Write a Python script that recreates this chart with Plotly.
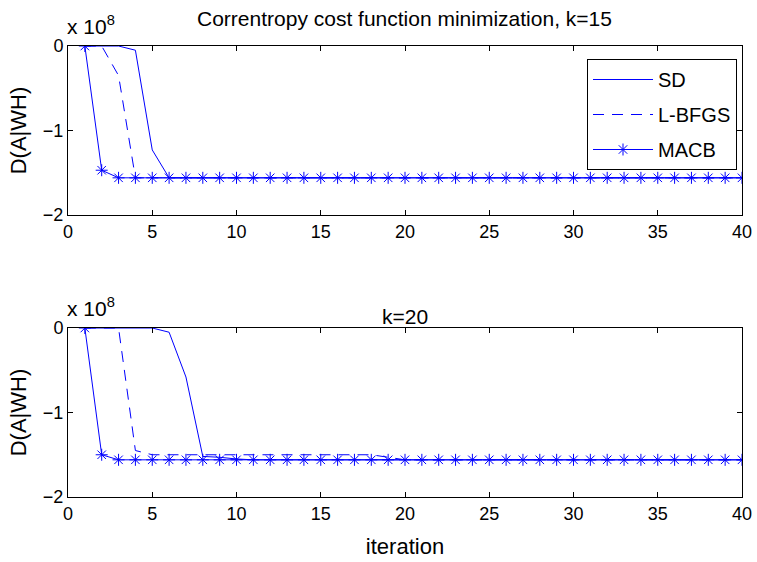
import plotly.graph_objects as go

# iterations
iters = list(range(1, 41))

# values in units of 1e8
# top panel, k=15
sd_k15 = [0, 0, 0, -0.05, -1.23] + [-1.56] * 35
lbfgs_k15 = [0, 0, -0.35] + [-1.56] * 37
macb_k15 = [0, -1.47] + [-1.56] * 38

# bottom panel, k=20
sd_k20 = [0, 0, 0, 0, 0, -0.05, -0.58, -1.52, -1.53, -1.55] + [-1.56] * 30
lbfgs_k20 = [0, 0, 0, -1.45] + [-1.50] * 14 + [-1.53] + [-1.56] * 21
macb_k20 = [0, -1.50] + [-1.56] * 38

x_ticks = [0, 5, 10, 15, 20, 25, 30, 35, 40]
y_ticks = [0, -1, -2]

title_top = "Correntropy cost function minimization, k=15"
title_bottom = "k=20"

BLUE = "#0000ff"
FONT = "Liberation Sans, Arial, sans-serif"
FS = 18
FT = 21
FL = 20
W, H = 757, 562

fig = go.Figure()

def add_panel(sd, lb, mc, xa, ya, show):
    fig.add_trace(go.Scatter(x=iters, y=sd, mode="lines", name="SD",
                             line=dict(color=BLUE, width=1), xaxis=xa, yaxis=ya,
                             showlegend=show, legendgroup="a"))
    fig.add_trace(go.Scatter(x=iters, y=lb, mode="lines", name="L-BFGS",
                             line=dict(color=BLUE, width=1, dash="11px,8px"), xaxis=xa, yaxis=ya,
                             showlegend=show, legendgroup="b"))
    fig.add_trace(go.Scatter(x=iters, y=mc, mode="lines+markers", name="MACB",
                             line=dict(color=BLUE, width=1),
                             marker=dict(symbol="asterisk-open", size=10, color=BLUE,
                                         line=dict(color=BLUE, width=1)),
                             xaxis=xa, yaxis=ya, showlegend=show, legendgroup="c"))

add_panel(sd_k15, lbfgs_k15, macb_k15, "x", "y", True)
add_panel(sd_k20, lbfgs_k20, macb_k20, "x2", "y2", False)

xl, xr = 68, 742
top = (46, 215)
bot = (328, 497)

def xd():
    return [xl / W, xr / W]

def yd(p):
    return [1 - p[1] / H, 1 - p[0] / H]

axis_common = dict(showline=True, linecolor="black", linewidth=1, mirror="ticks",
                   ticks="inside", ticklen=5, tickcolor="black", showgrid=False,
                   zeroline=False, automargin=False,
                   tickfont=dict(family=FONT, size=FS, color="black"))

fig.update_layout(
    width=W, height=H,
    margin=dict(l=0, r=0, t=0, b=0, autoexpand=False),
    paper_bgcolor="white", plot_bgcolor="white",
    font=dict(family=FONT, size=FS, color="black"),
    xaxis=dict(domain=xd(), anchor="y", range=[0, 40], tickvals=x_ticks, **axis_common),
    yaxis=dict(domain=yd(top), anchor="x", range=[-2, 0], tickvals=y_ticks,
               title=dict(text="D(A|WH)", standoff=10), **axis_common),
    xaxis2=dict(domain=xd(), anchor="y2", range=[0, 40], tickvals=x_ticks,
                title=dict(text="iteration", standoff=16), **axis_common),
    yaxis2=dict(domain=yd(bot), anchor="x2", range=[-2, 0], tickvals=y_ticks,
                title=dict(text="D(A|WH)", standoff=10), **axis_common),
    legend=dict(x=737 / W, y=1 - 59 / H, xanchor="right", yanchor="top",
                bordercolor="black", borderwidth=1, bgcolor="white",
                font=dict(family=FONT, size=FL), tracegroupgap=6, itemwidth=60),
    showlegend=True,
)

fig.add_annotation(text=title_top, x=(xl + xr) / 2 / W, y=1 - 18 / H, xref="paper", yref="paper",
                   showarrow=False, font=dict(family=FONT, size=FT), xanchor="center", yanchor="middle")
fig.add_annotation(text=title_bottom, x=(xl + xr) / 2 / W, y=1 - 316 / H, xref="paper", yref="paper",
                   showarrow=False, font=dict(family=FONT, size=FT), xanchor="center", yanchor="middle")
for ytop in (top[0], bot[0]):
    fig.add_annotation(text="x 10<sup>8</sup>", x=65 / W, y=1 - (ytop - 6) / H, xref="paper", yref="paper",
                       showarrow=False, font=dict(family=FONT, size=21), xanchor="left", yanchor="bottom")

fig.write_html("out.html")
